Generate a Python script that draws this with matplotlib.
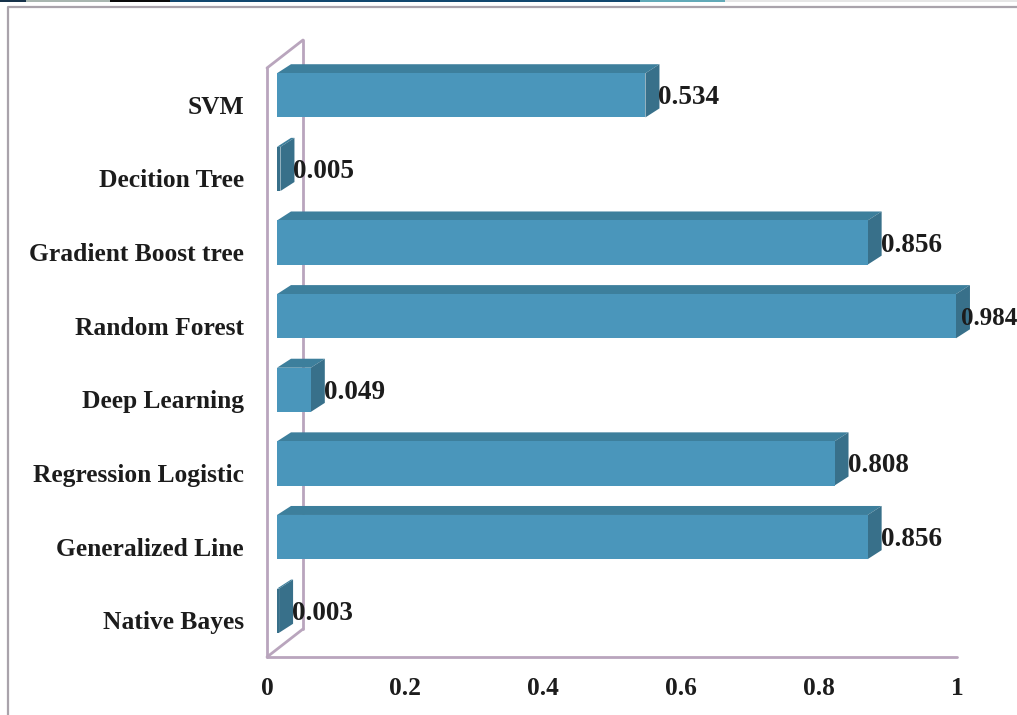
import matplotlib
matplotlib.use('Agg')
import matplotlib.pyplot as plt
from matplotlib.patches import Polygon, Rectangle
from matplotlib.transforms import Affine2D

# values, bottom to top
models = ['Native Bayes', 'Generalized Line', 'Regression Logistic', 'Deep Learning',
          'Random Forest', 'Gradient Boost tree', 'Decition Tree', 'SVM']
scores = [0.003, 0.856, 0.808, 0.049, 0.984, 0.856, 0.005, 0.534]
x_ticks = [0, 0.2, 0.4, 0.6, 0.8, 1]
x_tick_labels = ['0', '0.2', '0.4', '0.6', '0.8', '1']

W, H = 1017, 715
FRONT = '#4a96bb'
TOP = '#3d7f9c'
SIDE = '#38708a'
WALL = '#b9a5bd'
TEXT = '#1c1c1c'
FONT = 'Liberation Serif'
BAR_H = 0.6
# fake 3d depth in pixels
BAR_DX, BAR_DY = 10, 9.5
DEPTH_DX, DEPTH_DY = 14, 9
WALL_DX, WALL_DY = 36, 28

fig = plt.figure(figsize=(W / 100, H / 100), dpi=100, facecolor='white')
ax = fig.add_axes([267 / W, 1 - 657 / H, 690 / W, 589 / H])
ax.set_xlim(0, 1)
ax.set_ylim(-0.5, 7.5)
for s in ax.spines.values():
    s.set_visible(False)
ax.set_yticks(range(len(models)))
ax.set_yticklabels(models, family=FONT, fontweight='bold', fontsize=18.4, color=TEXT)
ax.set_xticks(x_ticks)
ax.set_xticklabels(x_tick_labels, family=FONT, fontweight='bold', fontsize=18.4, color=TEXT)
ax.tick_params(axis='y', length=0, pad=16.5)
ax.tick_params(axis='x', length=0, pad=14.5)

# walls of the 3d box
wall = dict(color=WALL, lw=2, clip_on=False, zorder=1, solid_capstyle='round')
shift_back = Affine2D().translate(WALL_DX, WALL_DY)
ax.plot([0, 0], [-0.5, 7.5], **wall)
ax.plot([0, 1], [-0.5, -0.5], **wall)
ax.plot([0, 0], [-0.5, 7.5], transform=ax.transData + shift_back, **wall)
for y in [-0.5, 7.5]:
    p0 = ax.transData.transform((0, y))
    ax.plot([p0[0], p0[0] + WALL_DX], [p0[1], p0[1] + WALL_DY], transform=None, **wall)

# bars drawn from the data scale, shifted off the front wall
shift = Affine2D().translate(BAR_DX, BAR_DY)
tr = ax.transData + shift
for i, v in enumerate(scores):
    p = tr.transform([(0, i - BAR_H / 2), (v, i - BAR_H / 2), (v, i + BAR_H / 2), (0, i + BAR_H / 2)])
    (x0, y0), (x1, _), _, (_, y1) = p
    top = [(x0, y1), (x1, y1), (x1 + DEPTH_DX, y1 + DEPTH_DY), (x0 + DEPTH_DX, y1 + DEPTH_DY)]
    side = [(x1, y0), (x1 + DEPTH_DX, y0 + DEPTH_DY), (x1 + DEPTH_DX, y1 + DEPTH_DY), (x1, y1)]
    for pts, col in [(top, TOP), (side, SIDE)]:
        ax.add_patch(Polygon(pts, closed=True, transform=None, facecolor=col, edgecolor='none',
                             clip_on=False, zorder=3))
    # the very thin bars only show their dark side in the original
    ax.add_patch(Rectangle((0, i - BAR_H / 2), v, BAR_H, transform=tr,
                           facecolor=SIDE if v < 0.01 else FRONT, edgecolor='none',
                           clip_on=False, zorder=4))
    # the longest label has to stay inside the picture
    last = v > 0.95
    ax.annotate(f'{v:.3f}', xy=(v, i), xycoords=tr, xytext=(5 if last else 13, -2.5),
                textcoords='offset pixels', ha='left', va='center', family=FONT, fontweight='bold',
                fontsize=18 if last else 19.5, color=TEXT, annotation_clip=False, zorder=5)

# outer chart border
fig.add_artist(plt.Line2D([8 / W, 8 / W, 1], [0, 1 - 7 / H, 1 - 7 / H], color='#a9a3ab', lw=1.6))
# strip of the page above the chart
for x0, x1, col in [(0, 26, '#16324a'), (26, 110, '#a9b6b0'), (110, 170, '#0a0a0a'),
                    (170, 640, '#12486f'), (640, 725, '#62aab8'), (725, 1017, '#e6e6e6')]:
    fig.add_artist(Rectangle((x0 / W, 1 - 2 / H), (x1 - x0) / W, 2 / H, facecolor=col,
                             edgecolor='none', transform=fig.transFigure))

fig.savefig('out.png', dpi=100)
